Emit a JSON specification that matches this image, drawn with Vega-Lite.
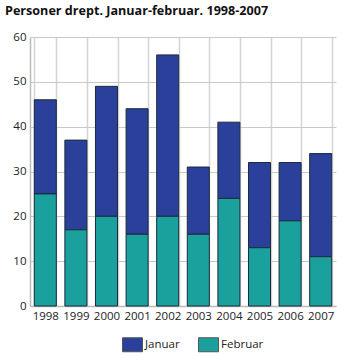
{
  "$schema": "https://vega.github.io/schema/vega-lite/v6.json",
  "width": 306,
  "height": 269,
  "autosize": {"type": "none"},
  "padding": {"left": 30, "top": 37, "right": 26, "bottom": 50},
  "background": "white",
  "title": {
    "text": "Personer drept. Januar-februar. 1998-2007",
    "anchor": "start",
    "frame": "group",
    "dx": -25,
    "offset": 13,
    "font": "Open Sans",
    "fontSize": 12.6,
    "fontWeight": "bold",
    "color": "#111"
  },
  "data": {
    "values": [
      {"year": "1998", "month": "Januar", "ord": 2, "value": 21},
      {"year": "1998", "month": "Februar", "ord": 1, "value": 25},
      {"year": "1999", "month": "Januar", "ord": 2, "value": 20},
      {"year": "1999", "month": "Februar", "ord": 1, "value": 17},
      {"year": "2000", "month": "Januar", "ord": 2, "value": 29},
      {"year": "2000", "month": "Februar", "ord": 1, "value": 20},
      {"year": "2001", "month": "Januar", "ord": 2, "value": 28},
      {"year": "2001", "month": "Februar", "ord": 1, "value": 16},
      {"year": "2002", "month": "Januar", "ord": 2, "value": 36},
      {"year": "2002", "month": "Februar", "ord": 1, "value": 20},
      {"year": "2003", "month": "Januar", "ord": 2, "value": 15},
      {"year": "2003", "month": "Februar", "ord": 1, "value": 16},
      {"year": "2004", "month": "Januar", "ord": 2, "value": 17},
      {"year": "2004", "month": "Februar", "ord": 1, "value": 24},
      {"year": "2005", "month": "Januar", "ord": 2, "value": 19},
      {"year": "2005", "month": "Februar", "ord": 1, "value": 13},
      {"year": "2006", "month": "Januar", "ord": 2, "value": 13},
      {"year": "2006", "month": "Februar", "ord": 1, "value": 19},
      {"year": "2007", "month": "Januar", "ord": 2, "value": 23},
      {"year": "2007", "month": "Februar", "ord": 1, "value": 11}
    ]
  },
  "mark": {"type": "bar", "stroke": "#1c2a3a", "strokeWidth": 1},
  "encoding": {
    "x": {
      "field": "year",
      "type": "nominal",
      "title": null,
      "scale": {"paddingInner": 0.28, "paddingOuter": 0.14},
      "axis": {
        "labelAngle": 0,
        "labelFont": "Open Sans",
        "labelFontSize": 11.5,
        "labelColor": "#222",
        "labelPadding": 4,
        "ticks": false,
        "tickBand": "extent",
        "grid": true,
        "gridColor": "#d4d4d4",
        "gridWidth": 1.5,
        "domainColor": "#bbbbbb",
        "domainWidth": 1.5
      }
    },
    "y": {
      "field": "value",
      "type": "quantitative",
      "stack": "zero",
      "title": null,
      "scale": {"domain": [0, 60]},
      "axis": {
        "values": [0, 10, 20, 30, 40, 50, 60],
        "labelFont": "Open Sans",
        "labelFontSize": 11.5,
        "labelColor": "#222",
        "labelPadding": 4,
        "ticks": false,
        "grid": true,
        "gridColor": "#c8c8c8",
        "gridWidth": 1,
        "domainColor": "#bbbbbb",
        "domainWidth": 1.5
      }
    },
    "color": {
      "field": "month",
      "type": "nominal",
      "scale": {"domain": ["Januar", "Februar"], "range": ["#2a409a", "#1aa19e"]},
      "legend": {
        "title": null,
        "orient": "none",
        "direction": "horizontal",
        "legendX": 92,
        "legendY": 297,
        "symbolType": "M-1,-0.7H1V0.7H-1Z",
        "symbolSize": 400,
        "symbolStrokeColor": "#555",
        "symbolStrokeWidth": 1,
        "labelFont": "Open Sans",
        "labelFontSize": 11.5,
        "labelColor": "#222",
        "labelOffset": 2,
        "columnPadding": 16
      }
    },
    "order": {"field": "ord", "type": "quantitative"}
  },
  "config": {"view": {"stroke": null}}
}
